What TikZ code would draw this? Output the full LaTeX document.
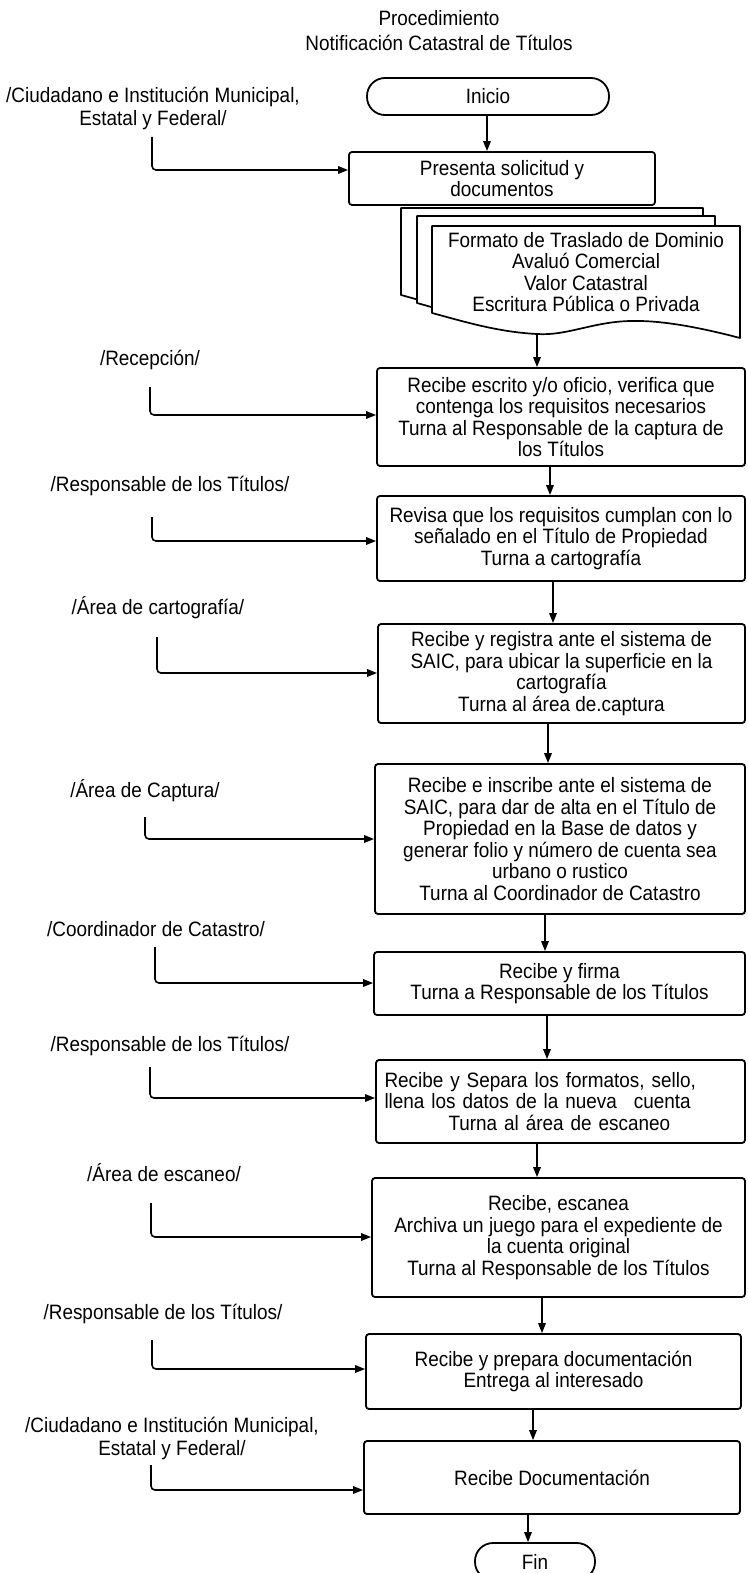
\documentclass[tikz,border=0pt]{standalone}
\usepackage{fontspec}
\setmainfont{Liberation Sans}[FakeStretch=0.91]
\usetikzlibrary{arrows.meta}
\newcommand\docsheet[3]{%
  \begin{scope}[shift={(#1,#2)},xscale=#3/308]
    \filldraw[fill=white,line width=1.7pt,line join=round]
      (0,0) -- (308,0) -- (308,112)
      .. controls (270,102) and (230,94) .. (198,95)
      .. controls (160,96) and (135,110) .. (105,108)
      .. controls (65,106) and (30,95) .. (0,87) -- cycle;
  \end{scope}}
\begin{document}
\begin{tikzpicture}[x=1pt,y=-1pt,
  every node/.style={font=\fontsize{20.8}{21.6}\selectfont, inner sep=0pt},
  box/.style={draw, line width=1.8pt, rounded corners=3pt, align=center, fill=white},
  arr/.style={line width=1.6pt, -{Triangle[length=10pt,width=7.5pt]}},
  lbl/.style={align=center},
  term/.style={draw, line width=1.8pt, rounded corners=18pt, minimum height=37pt}]
\fill[white] (0,0) rectangle (747,1573);
\useasboundingbox (0,0) rectangle (747,1573);

% title
\node[align=center, font=\fontsize{20.8}{25}\selectfont] (title) at (439,30.5)
  {Procedimiento\\Notificación Catastral de Títulos};

% terminals
\node[term, minimum width=242pt] (inicio) at (488,96.5) {Inicio};
\node[term, minimum width=120pt] (fin) at (535,1561.5) {Fin};

% boxes
\node[box, minimum width=306pt, minimum height=53pt] (b1) at (502,178.5)
  {Presenta solicitud y\\documentos};

% document stack
\docsheet{401}{208}{302}
\docsheet{417}{216}{298}
\docsheet{432}{226}{308}
\node[align=center, font=\fontsize{20.8}{21.3}\selectfont] (docs) at (586,272)
  {Formato de Traslado de Dominio\\Avaluó Comercial\\Valor Catastral\\Escritura Pública o Privada};
\coordinate (docbot) at (537,333);

\node[box, minimum width=368pt, minimum height=98pt] (b2) at (561,417)
  {Recibe escrito y/o oficio, verifica que\\contenga los requisitos necesarios\\Turna al Responsable de la captura de\\los Títulos};
\node[box, minimum width=368pt, minimum height=85pt] (b3) at (561,538.5)
  {Revisa que los requisitos cumplan con lo\\señalado en el Título de Propiedad\\Turna a cartografía};
\node[box, minimum width=367pt, minimum height=99pt] (b4) at (561.5,673.5)
  {Recibe y registra ante el sistema de\\SAIC, para ubicar la superficie en la\\cartografía\\Turna al área de.captura};
\node[box, minimum width=370pt, minimum height=150pt] (b5) at (560,839)
  {Recibe e inscribe ante el sistema de\\SAIC, para dar de alta en el Título de\\Propiedad en la Base de datos y\\generar folio y número de cuenta sea\\urbano o rustico\\Turna al Coordinador de Catastro};
\node[box, minimum width=371pt, minimum height=63pt] (b6) at (559.5,983.5)
  {Recibe y firma\\Turna a Responsable de los Títulos};
\node[box, minimum width=369pt, minimum height=83pt, text width=352pt, align=left] (b7) at (560.5,1101.5)
  {Recibe y Separa los formatos, sello,\\llena los datos de la nueva\hspace{10pt} cuenta\\\hspace*{64pt}Turna al área de escaneo};
\node[box, minimum width=373pt, minimum height=119pt] (b8) at (558.5,1237.5)
  {Recibe, escanea\\Archiva un juego para el expediente de\\la cuenta original\\Turna al Responsable de los Títulos};
\node[box, minimum width=375pt, minimum height=75pt] (b9) at (553.5,1371.5)
  {Recibe y prepara documentación\\Entrega al interesado};
\node[box, minimum width=376pt, minimum height=73pt] (b10) at (552,1477.5)
  {Recibe Documentación};

% labels
\node[lbl, font=\fontsize{20.8}{23}\selectfont] (l1) at (153,109) {/Ciudadano e Institución Municipal,\\Estatal y Federal/};
\node[lbl] (l2) at (150,360) {/Recepción/};
\node[lbl] (l3) at (170,486) {/Responsable de los Títulos/};
\node[lbl] (l4) at (158,608) {/Área de cartografía/};
\node[lbl] (l5) at (145,791) {/Área de Captura/};
\node[lbl] (l6) at (156,929) {/Coordinador de Catastro/};
\node[lbl] (l7) at (170,1046) {/Responsable de los Títulos/};
\node[lbl] (l8) at (164,1173) {/Área de escaneo/};
\node[lbl] (l9) at (163,1314) {/Responsable de los Títulos/};
\node[lbl, font=\fontsize{20.8}{23}\selectfont] (l10) at (172,1438) {/Ciudadano e Institución Municipal,\\Estatal y Federal/};

% elbow start points
\coordinate (e1) at (152,137);
\coordinate (e2) at (150,387);
\coordinate (e3) at (152,517);
\coordinate (e4) at (157,637);
\coordinate (e5) at (145,817);
\coordinate (e6) at (155,947);
\coordinate (e7) at (150,1067);
\coordinate (e8) at (151,1203);
\coordinate (e9) at (152,1340);
\coordinate (e10) at (151,1465);

\draw[arr, rounded corners=4pt] (e1) |- (b1.west |- 0,170);
\draw[arr, rounded corners=4pt] (e2) |- (b2.west |- 0,415);
\draw[arr, rounded corners=4pt] (e3) |- (b3.west |- 0,541);
\draw[arr, rounded corners=4pt] (e4) |- (b4.west |- 0,673);
\draw[arr, rounded corners=4pt] (e5) |- (b5.west |- 0,839);
\draw[arr, rounded corners=4pt] (e6) |- (b6.west |- 0,983);
\draw[arr, rounded corners=4pt] (e7) |- (b7.west |- 0,1098);
\draw[arr, rounded corners=4pt] (e8) |- (b8.west |- 0,1237);
\draw[arr, rounded corners=4pt] (e9) |- (b9.west |- 0,1369);
\draw[arr, rounded corners=4pt] (e10) |- (b10.west |- 0,1490);

% flow arrows
\draw[arr] (inicio.south -| 487,0) -- (b1.north -| 487,0);
\draw[arr] (docbot) -- (b2.north -| docbot);
\draw[arr] (b2.south -| 550,0) -- (b3.north -| 550,0);
\draw[arr] (b3.south -| 553,0) -- (b4.north -| 553,0);
\draw[arr] (b4.south -| 548,0) -- (b5.north -| 548,0);
\draw[arr] (b5.south -| 545,0) -- (b6.north -| 545,0);
\draw[arr] (b6.south -| 547,0) -- (b7.north -| 547,0);
\draw[arr] (b7.south -| 537,0) -- (b8.north -| 537,0);
\draw[arr] (b8.south -| 542,0) -- (b9.north -| 542,0);
\draw[arr] (b9.south -| 533,0) -- (b10.north -| 533,0);
\draw[arr] (b10.south -| 528,0) -- (fin.north -| 528,0);
\end{tikzpicture}
\end{document}
